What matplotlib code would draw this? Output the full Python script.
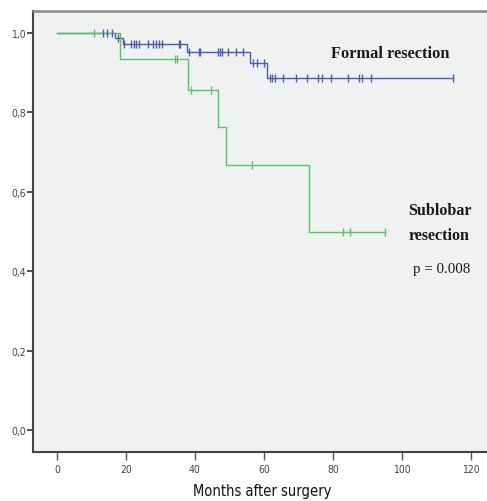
import matplotlib
matplotlib.use("Agg")
import matplotlib.pyplot as plt
import numpy as np

# Formal resection (blue)
formal_event_times = [0, 16.9, 19.2, 37.6, 55.9, 61.0]
formal_survival = [1.0, 0.987, 0.972, 0.951, 0.924, 0.886]
formal_end = 114.8
formal_censor = [13.5, 14.5, 16.0, 17.8,
                 19.6, 21.4, 22.4, 23.0, 23.8, 26.4, 27.8, 28.6, 29.6, 30.5, 35.3, 35.8,
                 38.2, 41.1, 41.5, 46.8, 47.3, 47.7, 49.7, 51.8, 54.0,
                 56.8, 58.1, 60.0,
                 61.6, 62.3, 63.1, 65.5, 69.3, 72.6, 75.5, 76.9, 79.3, 84.3, 87.5, 88.4, 91.0, 114.8]

# Sublobar resection (green)
sub_event_times = [0, 18.2, 37.9, 46.8, 48.9, 72.9]
sub_survival = [1.0, 0.933, 0.857, 0.762, 0.667, 0.5]
sub_end = 95.0
sub_censor = [10.9, 34.3, 34.8, 38.9, 44.6, 56.4, 82.9, 84.8, 95.0]

xticks = [0, 20, 40, 60, 80, 100, 120]
yticks = [0.0, 0.2, 0.4, 0.6, 0.8, 1.0]
ytick_labels = ["0,0", "0,2", "0,4", "0,6", "0,8", "1,0"]

blue = "#4a5eb0"
green = "#5cc067"

fig = plt.figure(figsize=(4.87, 5.02), dpi=100)
ax = fig.add_axes([33/487, 49/502, 1 - 33/487 + 0.01, 441/502])
ax.set_facecolor("#f0f1f1")


def surv_at(times, surv, t):
    idx = np.searchsorted(times, t, side="right") - 1
    return np.array(surv)[idx]


for times, surv, end, cens, col in [
    (formal_event_times, formal_survival, formal_end, formal_censor, blue),
    (sub_event_times, sub_survival, sub_end, sub_censor, green),
]:
    xs = list(times) + [end]
    ys = list(surv) + [surv[-1]]
    ax.step(xs, ys, where="post", color=col, lw=1.0, zorder=3)
    cy = [surv_at(times, surv, c) for c in cens]
    ax.plot(cens, cy, linestyle="none", marker="|", markersize=6,
            markeredgewidth=1.0, color=col, zorder=4)

ax.set_xlim(-6.9, 126)
ax.set_ylim(-0.055, 1.055)
ax.set_xticks(xticks)
ax.set_yticks(yticks)
ax.set_yticklabels(ytick_labels)

for lab in ax.get_xticklabels() + ax.get_yticklabels():
    lab.set_fontfamily("DejaVu Sans")
    lab.set_fontstretch("condensed")
    lab.set_fontsize(7.5)
    lab.set_color("#444444")

ax.tick_params(axis="y", direction="out", length=4, width=1.2, color="#333333", pad=1)
ax.tick_params(axis="x", direction="out", length=6, width=1.0, color="#555555", pad=3)

ax.spines["right"].set_visible(False)
ax.spines["left"].set_color("#444444")
ax.spines["left"].set_linewidth(1.5)
ax.spines["bottom"].set_color("#444444")
ax.spines["bottom"].set_linewidth(1.5)
ax.spines["top"].set_color("#8a8a8a")
ax.spines["top"].set_linewidth(1.8)

ax.set_xlabel("Months after surgery", fontfamily="DejaVu Sans", fontstretch="condensed",
              fontsize=10.5, color="#111111", labelpad=6)

serif = ["Liberation Serif", "DejaVu Serif"]
ax.text(79.5, 0.95, "Formal resection", fontfamily=serif, fontweight="bold",
        fontsize=11.8, color="#1a1a1a", ha="left", va="center")
ax.text(101.8, 0.553, "Sublobar", fontfamily=serif, fontweight="bold",
        fontsize=11.5, color="#1a1a1a", ha="left", va="center")
ax.text(101.8, 0.49, "resection", fontfamily=serif, fontweight="bold",
        fontsize=11.5, color="#1a1a1a", ha="left", va="center")
ax.text(103.3, 0.406, "p = 0.008", fontfamily=serif,
        fontsize=10.8, color="#1a1a1a", ha="left", va="center")

fig.savefig("out.png", dpi=100)
